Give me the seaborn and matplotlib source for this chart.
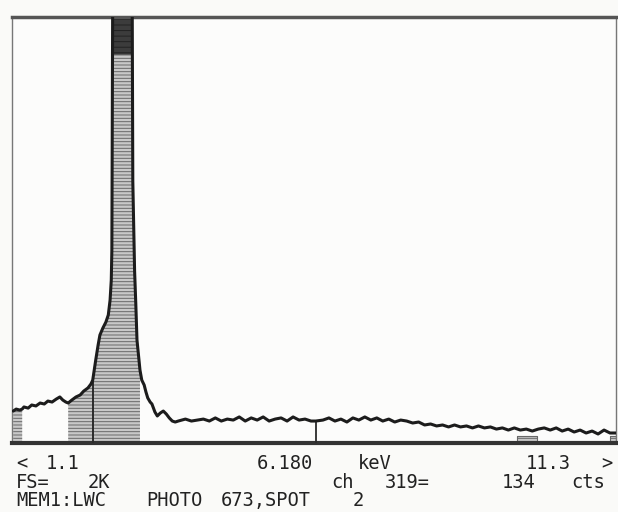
import numpy as np
import pandas as pd
import matplotlib
matplotlib.use("Agg")
import matplotlib.pyplot as plt
import seaborn as sns

# X-ray spectrum, energy (keV) vs counts per channel
energy_kev = [
    1.12, 1.17, 1.23, 1.27, 1.30, 1.37, 1.43, 1.50, 1.57, 1.64, 1.70, 1.77,
    1.84, 1.90, 1.95, 2.00, 2.04, 2.10, 2.17, 2.24, 2.30, 2.37, 2.42, 2.45,
    2.50, 2.54, 2.57, 2.62, 2.67, 2.71, 2.74, 2.76, 2.77, 2.79, 2.81, 2.87,
    2.94, 3.01, 3.07, 3.10, 3.12, 3.15, 3.17, 3.19, 3.24, 3.27, 3.31, 3.34,
    3.37, 3.41, 3.44, 3.49, 3.53, 3.58, 3.63, 3.68, 3.73, 3.78, 3.83, 3.88,
    4.0, 4.1, 4.2, 4.3, 4.4, 4.5, 4.6, 4.7, 4.8, 4.9, 5.0, 5.1, 5.2, 5.3,
    5.4, 5.5, 5.6, 5.7, 5.8, 5.9, 6.0, 6.1, 6.18, 6.3, 6.4, 6.5, 6.6, 6.7,
    6.8, 6.9, 7.0, 7.1, 7.2, 7.3, 7.4, 7.5, 7.6, 7.7, 7.8, 7.9, 8.0, 8.1,
    8.2, 8.3, 8.4, 8.5, 8.6, 8.7, 8.8, 8.9, 9.0, 9.1, 9.2, 9.3, 9.4, 9.5,
    9.6, 9.7, 9.8, 9.9, 10.0, 10.1, 10.2, 10.3, 10.4, 10.5, 10.6, 10.7,
    10.8, 10.9, 11.0, 11.1, 11.2,
]
counts = [
    195, 207, 201, 207, 220, 213, 232, 226, 244, 238, 256, 250,
    268, 281, 262, 250, 244, 262, 281, 293, 317, 336, 360, 384,
    506, 598, 659, 702, 738, 781, 872, 994, 1177, 3400, 4600, 6500,
    7000, 6200, 4200, 3800, 1600, 1050, 850, 628, 445, 384, 354, 311,
    275, 250, 238, 189, 165, 183, 195, 177, 153, 134, 128, 134,
    146, 134, 140, 146, 134, 153, 134, 146, 140, 159, 134, 153, 140, 159,
    134, 146, 153, 134, 159, 140, 146, 134, 134, 140, 153, 134, 146, 128,
    153, 140, 159, 140, 153, 134, 146, 128, 140, 134, 122, 128, 110, 116,
    104, 110, 98, 110, 98, 104, 92, 104, 92, 98, 85, 92, 79, 92,
    79, 85, 73, 85, 92, 79, 92, 73, 85, 67, 79, 61,
    73, 55, 79, 61, 61,
]

# regions of interest shaded under the spectrum
roi_bands = [(1.10, 1.27), (2.04, 2.45), (2.45, 3.24)]
roi_edge_kev = 2.45
# small window markers along the baseline
marker_bands = [(9.54, 9.88), (11.10, 11.20)]

# display readout
range_lo, range_hi = "1.1", "11.3"
cursor_kev = 6.18
cursor_channel = 319
cursor_counts = 134
full_scale = "2K"
memo_words = ["MEM1:LWC", "PHOTO", "673,SPOT", "2"]

sns.set_style("white")
plt.rcParams["hatch.linewidth"] = 0.7

W, H = 618, 512
fig = plt.figure(figsize=(W / 100, H / 100), dpi=100, facecolor="#fafaf8")
ax = fig.add_axes([12 / W, 69 / H, 604 / W, 426 / H])
ax.set_facecolor("#fcfcfb")

E = np.array(energy_kev)
C = np.array(counts, dtype=float)
df = pd.DataFrame({"keV": E, "cts": C})

for lo, hi in roi_bands:
    mask = (E >= lo) & (E <= hi)
    ax.fill_between(E, 0, C, where=mask, facecolor="#c8c8c8",
                    edgecolor="#686868", hatch="-----", linewidth=0, zorder=1)

# saturated top of the peak
ax.fill_between(E, 2370, C, where=C > 2370, facecolor="#3c3c3c",
                edgecolor="#222222", hatch="---", linewidth=0, zorder=2)

for lo, hi in marker_bands:
    ax.fill_between([lo, hi], 0, 45, facecolor="#c8c8c8",
                    edgecolor="#686868", hatch="-----", linewidth=0.8, zorder=1)

edge_val = C[np.isclose(E, roi_edge_kev)][0]
ax.vlines(roi_edge_kev, 0, edge_val, color="#2a2a2a", lw=1.4, zorder=3)
ax.vlines(cursor_kev, 0, cursor_counts, color="#2a2a2a", lw=1.3, zorder=3)

sns.lineplot(data=df, x="keV", y="cts", color="#1c1c1c", lw=2.2,
             errorbar=None, ax=ax, zorder=4)

ax.set_xlim(1.1, 11.2)
ax.set_ylim(0, 2600)
ax.set_xticks([])
ax.set_yticks([])
ax.set_xlabel("")
ax.set_ylabel("")
ax.spines["top"].set(linewidth=2.5, color="#555555")
ax.spines["bottom"].set(linewidth=3.0, color="#333333")
ax.spines["left"].set(linewidth=1.0, color="#777777")
ax.spines["right"].set(linewidth=1.0, color="#777777")

def put(x, y, s):
    fig.text(x / W, 1 - y / H, s, fontsize=13.5, family="DejaVu Sans Mono",
             color="#222222", va="baseline", ha="left")

put(16, 469, "<")
put(46, 469, range_lo)
put(257, 469, f"{cursor_kev:.3f}")
put(358, 469, "keV")
put(526, 469, range_hi)
put(601, 469, ">")

put(16, 488, "FS=")
put(88, 488, full_scale)
put(331, 488, "ch")
put(385, 488, f"{cursor_channel}=")
put(502, 488, f"{cursor_counts}")
put(571, 488, "cts")

for x, w in zip([16, 146, 221, 353], memo_words):
    put(x, 506, w)

fig.savefig("out.png", dpi=100, facecolor=fig.get_facecolor())
